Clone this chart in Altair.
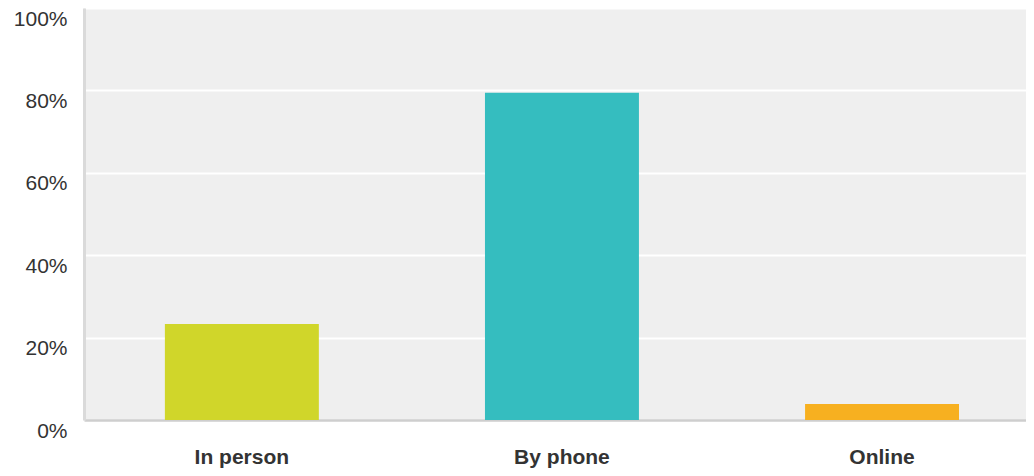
import altair as alt
import pandas as pd

categories = ["In person", "By phone", "Online"]
values = [0.233, 0.794, 0.039]
colors = ["#d0d62a", "#35bdbf", "#f7b020"]

df = pd.DataFrame({"category": categories, "value": values})

chart = alt.Chart(df).mark_bar().encode(
    x=alt.X(
        "category:N",
        sort=None,
        title=None,
        scale=alt.Scale(paddingInner=0.519, paddingOuter=0.231, align=0.547),
        axis=alt.Axis(
            labelAngle=0,
            labelFont="Liberation Sans",
            labelFontSize=21,
            labelFontWeight="bold",
            labelColor="#333333",
            labelBaseline="top",
            labelPadding=26,
            ticks=False,
            domain=True,
            domainColor="#cecece",
            domainWidth=2.5,
            grid=False,
        ),
    ),
    y=alt.Y(
        "value:Q",
        title=None,
        scale=alt.Scale(domain=[0, 1], nice=False),
        axis=alt.Axis(
            values=[0, 0.2, 0.4, 0.6, 0.8, 1.0],
            format=".0%",
            labelFont="Liberation Sans",
            labelFontSize=21,
            labelColor="#333333",
            labelBaseline="top",
            labelPadding=17,
            ticks=False,
            domain=True,
            domainColor="#dadada",
            domainWidth=3,
            grid=True,
            gridColor="#ffffff",
            gridWidth=2,
        ),
    ),
    color=alt.Color(
        "category:N",
        sort=None,
        scale=alt.Scale(domain=categories, range=colors),
        legend=None,
    ),
).properties(
    width=942,
    height=412,
    autosize=alt.AutoSizeParams(type="none"),
    padding={"left": 76, "top": 0, "right": 0, "bottom": 48},
).configure_view(
    fill="#efefef",
    stroke=None,
)

chart.save("out.html", embed_options={"renderer": "svg", "actions": False})
